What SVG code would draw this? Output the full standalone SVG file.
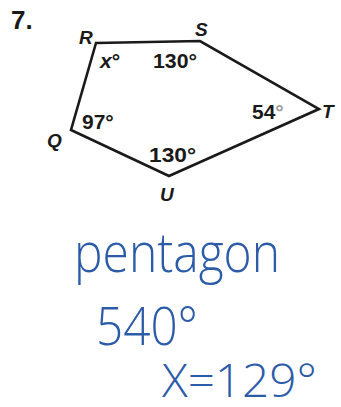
<svg xmlns="http://www.w3.org/2000/svg" width="341" height="407" viewBox="0 0 341 407">
<style>
.num{font-family:"Liberation Sans",Arial,sans-serif;font-weight:bold;fill:#1a1a1a}
.vl{font-family:"Liberation Sans",Arial,sans-serif;font-weight:bold;font-style:italic;font-size:19px;fill:#1a1a1a}
.ang{font-family:"Liberation Sans",Arial,sans-serif;font-weight:bold;font-size:21px;fill:#1a1a1a}
.hw{font-family:"Open Sans","Noto Sans",sans-serif;font-weight:300;fill:#2c5ba8}
.edge{fill:none;stroke:#1a1a1a;stroke-width:2.6;stroke-linejoin:miter}
</style>
<rect width="341" height="407" fill="#ffffff"/>
<text class="num" x="11" y="29" font-size="26">7.</text>
<g id="connectors">
<polygon class="edge" points="96,43 200,41 319,109 169,176 71,130"/>
</g>
<g id="R"><text class="vl" x="79" y="44">R</text><text class="ang" x="100" y="68"><tspan font-style="italic">x</tspan>°</text></g>
<g id="S"><text class="vl" x="195" y="36">S</text><text class="ang" x="153" y="68" textLength="44" lengthAdjust="spacingAndGlyphs">130°</text></g>
<g id="T"><text class="vl" x="322" y="118">T</text><text class="ang" x="252" y="119">54<tspan fill="#9a9a9a">°</tspan></text></g>
<g id="U"><text class="vl" x="160" y="201">U</text><text class="ang" x="149" y="162" textLength="47" lengthAdjust="spacingAndGlyphs">130°</text></g>
<g id="Q"><text class="vl" x="47" y="147">Q</text><text class="ang" x="82" y="129">97°</text></g>
<g id="work">
<text class="hw" x="74" y="272" font-size="56" textLength="206" lengthAdjust="spacingAndGlyphs">pentagon</text>
<text class="hw" x="96" y="345" font-size="53" textLength="102" lengthAdjust="spacingAndGlyphs">540°</text>
<text class="hw" x="162" y="397" font-size="46" textLength="155" lengthAdjust="spacingAndGlyphs">X=129°</text>
</g>
</svg>
